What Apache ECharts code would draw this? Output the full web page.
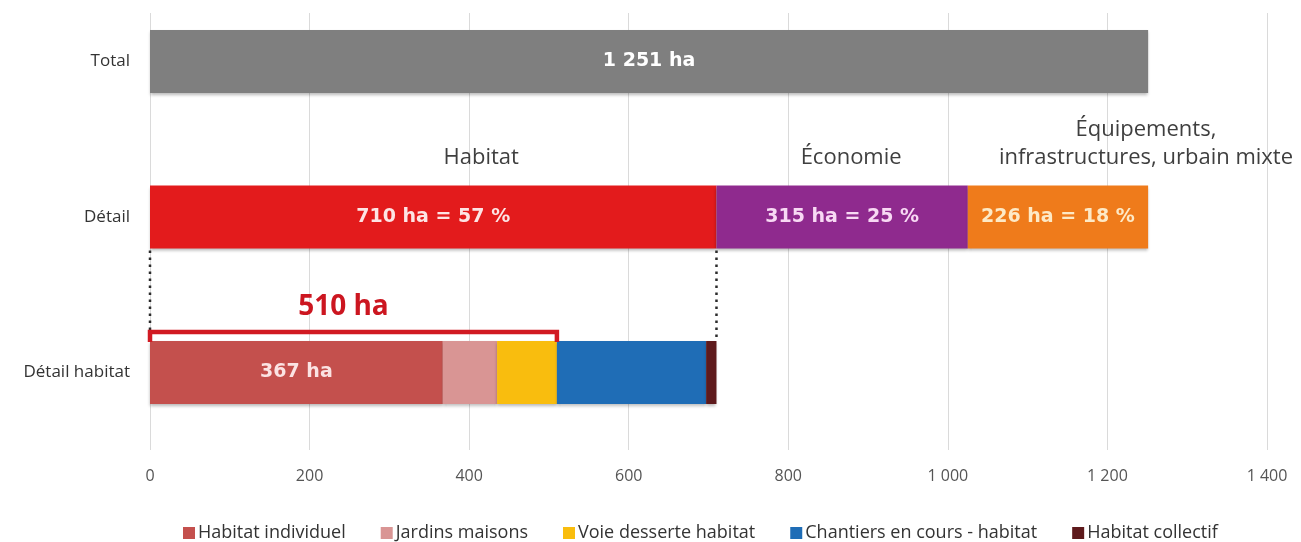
<!DOCTYPE html>
<html>
<head>
<meta charset="utf-8">
<script src="https://cdn.jsdelivr.net/npm/echarts@6.0.0/dist/echarts.min.js"></script>
<style>
  html, body { margin: 0; padding: 0; background: #ffffff; }
  #chart { width: 1301px; height: 542px; }
</style>
</head>
<body>
<div id="chart"></div>
<script>
// ---- Data ----
const categories = ['Total', 'Détail', 'Détail habitat'];
const totalValue = 1251;
const detailNames = ['Habitat', 'Économie', 'Équipements, infrastructures, urbain mixte'];
const detailTitles = ['Habitat', 'Économie', 'Équipements,\ninfrastructures, urbain mixte'];
const detailValues = [710, 315, 226];
const habitatNames = ['Habitat individuel', 'Jardins maisons', 'Voie desserte habitat', 'Chantiers en cours - habitat', 'Habitat collectif'];
const habitatValues = [367, 68, 75, 187, 13];
const bracketCount = 3; // first three habitat parts = "510 ha"
const xMin = 0, xMax = 1400, xStep = 200;

// ---- Styles ----
const FONT = '"Open Sans", "Noto Sans", sans-serif';
const BOLD = '"DejaVu Sans", "Open Sans", sans-serif';
const BAR_W = 63;
const totalColor = '#7f7f7f';
const detailColors = ['#e31b1c', '#8f2a8e', '#ef7b1b'];
const detailLabelColors = ['#fde4e4', '#f8d9f4', '#fde9c6'];
const habitatColors = ['#c4504d', '#d99594', '#f9bd0e', '#1f6db6', '#5e1a1c'];
const titleOffsets = [48, 9, 88];
const shadow = { shadowColor: 'rgba(0,0,0,0.28)', shadowBlur: 3, shadowOffsetY: 2 };

const fmt = v => String(v).replace(/\B(?=(\d{3})+(?!\d))/g, '\u00a0');
const detailTotal = detailValues.reduce((a, b) => a + b, 0);

const series = [];
series.push({
  name: 'Total', type: 'bar', xAxisIndex: 1, yAxisIndex: 1, stack: 's', barWidth: BAR_W,
  data: [totalValue, '-', '-'],
  itemStyle: Object.assign({ color: totalColor }, shadow),
  label: { show: true, position: 'inside', color: '#ffffff', fontFamily: BOLD, fontWeight: 'bold', fontSize: 19,
           formatter: p => fmt(p.value) + ' ha' }
});
detailNames.forEach((n, i) => {
  series.push({
    name: n, type: 'bar', xAxisIndex: 1, yAxisIndex: 1, stack: 's', barWidth: BAR_W,
    data: ['-', detailValues[i], '-'],
    itemStyle: Object.assign({ color: detailColors[i] }, shadow),
    label: { show: true, position: 'inside', color: detailLabelColors[i], fontFamily: BOLD, fontWeight: 'bold', fontSize: 19,
             formatter: p => fmt(p.value) + ' ha = ' + Math.round(p.value / detailTotal * 100) + ' %' }
  });
});
habitatNames.forEach((n, i) => {
  series.push({
    name: n, type: 'bar', xAxisIndex: 1, yAxisIndex: 1, stack: 's', barWidth: BAR_W,
    data: ['-', '-', habitatValues[i]],
    itemStyle: Object.assign({ color: habitatColors[i] }, shadow),
    label: { show: i === 0, position: 'inside', color: '#fbe3e3', fontFamily: BOLD, fontWeight: 'bold', fontSize: 19,
             formatter: p => fmt(p.value) + ' ha' }
  });
});

// group titles above the "Détail" bar
let cum = 0;
const titleData = detailValues.map((v, i) => { const c = cum + v / 2; cum += v; return [c, 1, i]; });
series.push({
  name: 'titles', type: 'custom', xAxisIndex: 1, yAxisIndex: 1, clip: false, silent: true,
  encode: { x: 0, y: 1 }, z: 5,
  data: titleData,
  renderItem: (params, api) => {
    const i = api.value(2);
    const p = api.coord([api.value(0), api.value(1)]);
    return {
      type: 'text',
      x: p[0] + titleOffsets[i], y: p[1] - BAR_W / 2 - 14,
      style: { text: detailTitles[i], align: 'center', verticalAlign: 'bottom',
               fontFamily: FONT, fontSize: 22, lineHeight: 28, fill: '#3f3f3f' }
    };
  }
});

// dotted connectors from "Détail › Habitat" down to "Détail habitat"
series.push({
  name: 'connectors', type: 'custom', xAxisIndex: 1, yAxisIndex: 1, clip: false, silent: true,
  encode: { x: 0 }, z: 4,
  data: [[0], [detailValues[0]]],
  renderItem: (params, api) => {
    const x = api.value(0);
    const a = api.coord([x, 1]);
    const b = api.coord([x, 2]);
    return {
      type: 'line',
      shape: { x1: a[0], y1: a[1] + BAR_W / 2 + 2, x2: b[0], y2: b[1] - BAR_W / 2 },
      style: { stroke: '#2b2b2b', lineWidth: 2.5, lineDash: [2.5, 4.5] }
    };
  }
});

// bracket "510 ha"
const bracketSum = habitatValues.slice(0, bracketCount).reduce((a, b) => a + b, 0);
series.push({
  name: 'bracket', type: 'custom', xAxisIndex: 1, yAxisIndex: 1, clip: false, silent: true,
  encode: { x: [0, 1] }, z: 6,
  data: [[0, bracketSum]],
  renderItem: (params, api) => {
    const p0 = api.coord([api.value(0), 2]);
    const p1 = api.coord([api.value(1), 2]);
    const top = p0[1] - BAR_W / 2;
    const yl = top - 9;
    return {
      type: 'group',
      children: [
        { type: 'polyline',
          shape: { points: [[p0[0], top + 1], [p0[0], yl], [p1[0], yl], [p1[0], top + 1]] },
          style: { stroke: '#d11a22', lineWidth: 4.5, fill: null, lineJoin: 'miter' } },
        { type: 'text', x: (p0[0] + p1[0]) / 2 - 10, y: yl - 25,
          style: { text: fmt(bracketSum) + ' ha', align: 'center', verticalAlign: 'middle',
                   fontFamily: FONT, fontWeight: 'bold', fontSize: 28, fill: '#cc1620' } }
      ]
    };
  }
});

const option = {
  backgroundColor: '#ffffff',
  animation: false,
  grid: [
    { left: 150, right: 34, top: 13, bottom: 92, outerBoundsMode: 'none' },                 // gridlines + tick labels
    { left: 150, right: 34, top: -16.25, height: 466.5, outerBoundsMode: 'none' }           // bars
  ],
  xAxis: [
    { gridIndex: 0, type: 'value', min: xMin, max: xMax, interval: xStep,
      axisLine: { show: false }, axisTick: { show: false },
      splitLine: { show: true, lineStyle: { color: '#dadada', width: 1 } },
      axisLabel: { margin: 18, color: '#555555', fontFamily: FONT, fontSize: 16,
                   formatter: v => fmt(v) } },
    { gridIndex: 1, type: 'value', min: xMin, max: xMax, interval: xStep, show: false,
      splitLine: { show: false } }
  ],
  yAxis: [
    { gridIndex: 0, type: 'value', show: false, min: 0, max: 1, splitLine: { show: false } },
    { gridIndex: 1, type: 'category', data: categories, inverse: true,
      axisLine: { show: false }, axisTick: { show: false }, splitLine: { show: false },
      axisLabel: { margin: 20, color: '#333333', fontFamily: FONT, fontSize: 17 } }
  ],
  legend: {
    data: habitatNames,
    left: 178, top: 519,
    itemWidth: 12, itemHeight: 12, itemGap: 35,
    icon: 'rect',
    textStyle: { color: '#333333', fontFamily: FONT, fontSize: 18, padding: [0, 0, 0, -2] },
    selectedMode: false
  },
  series: series
};

const chart = echarts.init(document.getElementById('chart'), null, { renderer: 'canvas' });
chart.setOption(option);
</script>
</body>
</html>
